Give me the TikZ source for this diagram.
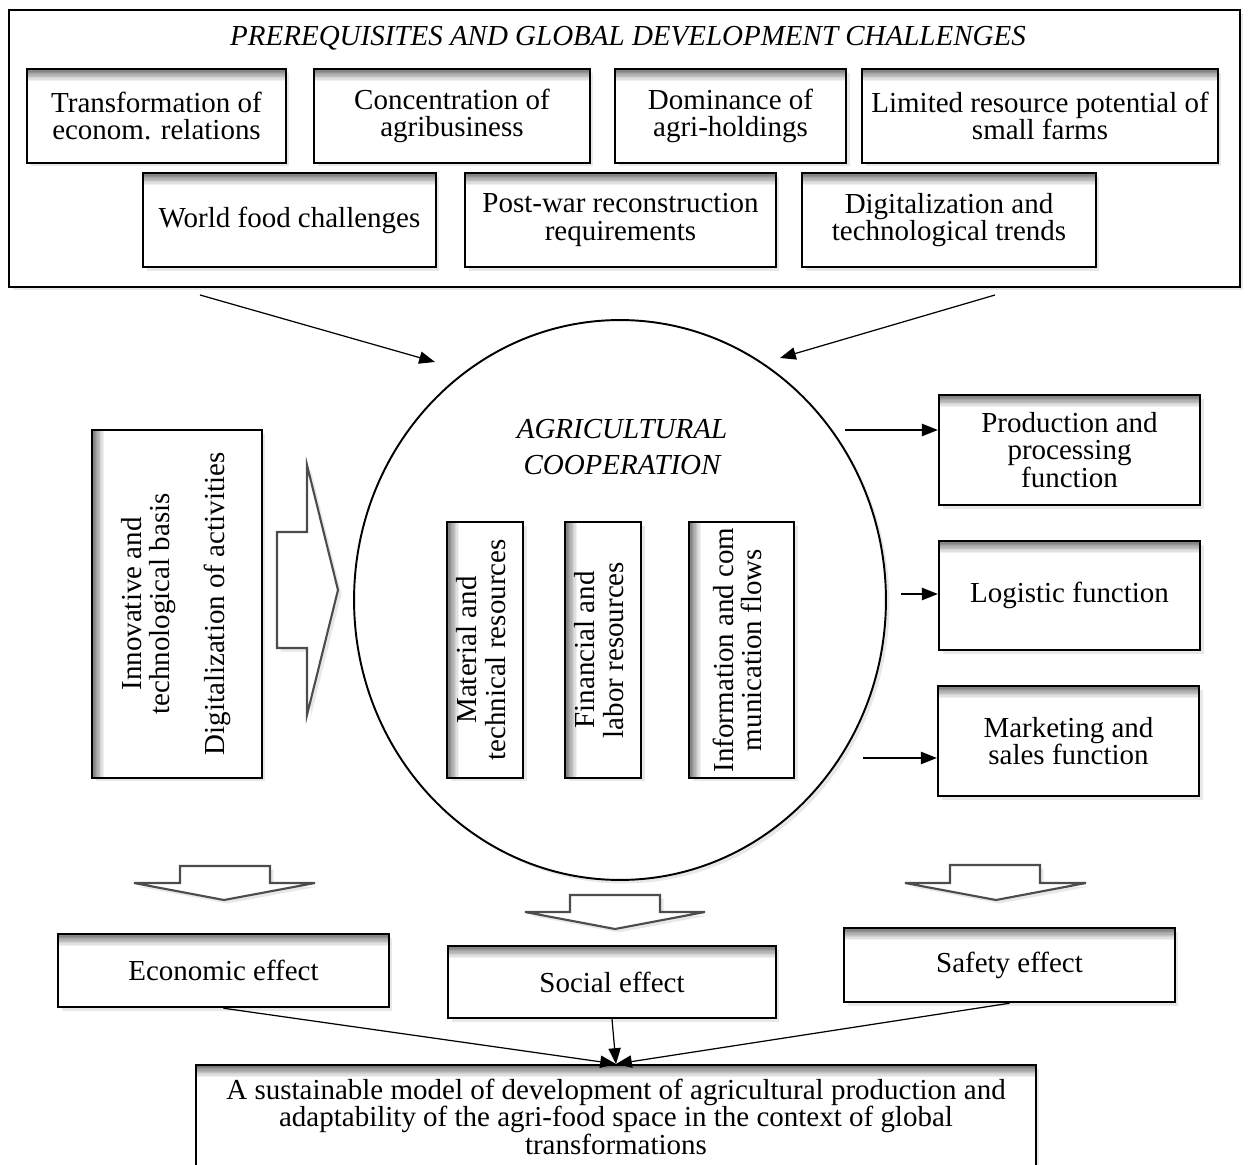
\documentclass[tikz,border=0pt]{standalone}
\usepackage{fontspec}
\setmainfont{Liberation Serif}
\usetikzlibrary{shapes.geometric,shadows,arrows.meta}
\newcommand\diafont{\fontsize{16.5}{15.5}\selectfont}
\newcommand\vtext[1]{\rotatebox{90}{\begin{tabular}{@{}c@{}}#1\end{tabular}}}

\begin{document}
\begin{tikzpicture}[x=0.02cm, y=-0.02cm, font=\diafont,
		>={Triangle[length=9pt,width=7pt]},
		sh/.style={drop shadow={opacity=0.18, shadow xshift=2pt, shadow yshift=-2pt}},
		b/.style={rectangle, draw, line width=1.4pt, fill=white, sh, align=center, inner sep=1pt,
			path picture={\foreach \i in {10,...,1} {\pgfmathtruncatemacro\g{60-6*\i}
				\fill[black!\g] (path picture bounding box.north west) rectangle ([yshift={-\i*0.75pt}]path picture bounding box.north east);}}},
		vb/.style={rectangle, draw, line width=1.4pt, fill=white, sh, inner sep=1pt,
			path picture={\foreach \i in {10,...,1} {\pgfmathtruncatemacro\g{60-6*\i}
				\fill[black!\g] (path picture bounding box.north west) rectangle ([xshift={\i*0.75pt}]path picture bounding box.south west);}}},
		ba/.style={draw=black!70, line width=1.2pt, fill=white, sh},
		a/.style={->, line width=0.7pt}]
		\useasboundingbox (0,0) rectangle (1251,1165);

		% prerequisites
		\node[draw, line width=1.4pt, fill=white, sh, minimum width=24.62cm, minimum height=5.54cm] (outer) at (624.5,148.5) {};
		\node[font=\diafont\itshape] (title) at (628,38) {PREREQUISITES AND GLOBAL DEVELOPMENT CHALLENGES};
		\node[b, minimum width=5.18cm, minimum height=1.88cm] (trans) at (156.5,116) {Transformation of\\econom. relations};
		\node[b, minimum width=5.52cm, minimum height=1.88cm] (conc) at (452,116) {Concentration of\\agribusiness};
		\node[b, minimum width=4.62cm, minimum height=1.88cm] (dom) at (730.5,116) {Dominance of\\agri-holdings};
		\node[b, minimum width=7.12cm, minimum height=1.88cm] (lim) at (1040,116) {Limited resource potential of\\small farms};
		\node[b, minimum width=5.86cm, minimum height=1.88cm] (world) at (289.5,220) {World food challenges};
		\node[b, minimum width=6.22cm, minimum height=1.88cm] (post) at (620.5,220) {Post-war reconstruction\\requirements};
		\node[b, minimum width=5.88cm, minimum height=1.88cm] (digit) at (949,220) {Digitalization and\\technological trends};

		% cooperation
		\node[ellipse, draw, line width=1.1pt, fill=white, sh, minimum width=10.64cm, minimum height=11.2cm] (coop) at (620,600) {};
		\node[font=\diafont\itshape, align=center] (cooptitle) at (622,447) {AGRICULTURAL\\[5pt]COOPERATION};
		\node[vb, minimum width=1.52cm, minimum height=5.12cm] (mat) at (485,650) {\vtext{Material and\\technical resources}};
		\node[vb, minimum width=1.52cm, minimum height=5.12cm] (fin) at (603,650) {\vtext{Financial and\\labor resources}};
		\node[vb, minimum width=2.1cm, minimum height=5.12cm] (info) at (741.5,650) {\vtext{Information and com\\munication flows}};

		\node[vb, minimum width=3.4cm, minimum height=6.96cm] (innov) at (177,604) {\vtext{Innovative and\\technological basis\\[15pt]Digitalization of activities}};
		\draw[ba] (277,532) -- (307,532) -- (307,465) -- (338,590) -- (307,715) -- (307,648) -- (277,648) -- cycle;

		% functions
		\node[b, minimum width=5.22cm, minimum height=2.2cm] (prod) at (1069.5,450) {Production and\\processing\\function};
		\node[b, minimum width=5.22cm, minimum height=2.18cm] (logi) at (1069.5,595.5) {Logistic function};
		\node[b, minimum width=5.22cm, minimum height=2.2cm] (mark) at (1068.5,741) {Marketing and\\sales function};

		\coordinate (t1) at (200,295);
		\coordinate (t1e) at (435,362);
		\coordinate (t2) at (995,295);
		\coordinate (t2e) at (780,358);
		\coordinate (f1) at (845,430);
		\coordinate (f2) at (901,594);
		\coordinate (f3) at (863,758);
		\draw[a] (t1) -- (t1e);
		\draw[a] (t2) -- (t2e);
		\draw[a] (f1) -- (f1 -| prod.west);
		\draw[a] (f2) -- (f2 -| logi.west);
		\draw[a] (f3) -- (f3 -| mark.west);

		% effects
		\draw[ba] (180,866) -- (270,866) -- (270,883) -- (315,883) -- (224,900) -- (134,883) -- (180,883) -- cycle;
		\draw[ba] (570,895) -- (660,895) -- (660,912) -- (705,912) -- (615,929) -- (525,912) -- (570,912) -- cycle;
		\draw[ba] (950,865) -- (1040,865) -- (1040,883) -- (1086,883) -- (996,900) -- (905,883) -- (950,883) -- cycle;

		\node[b, minimum width=6.62cm, minimum height=1.46cm] (econ) at (223.5,970.5) {Economic effect};
		\node[b, minimum width=6.56cm, minimum height=1.44cm] (social) at (612,982) {Social effect};
		\node[b, minimum width=6.62cm, minimum height=1.48cm] (safety) at (1009.5,965) {Safety effect};
		\node[b, anchor=north, minimum width=16.8cm, inner xsep=5pt, inner ysep=8pt, text depth=2cm] (final) at (616,1064) {A sustainable model of development of agricultural production and\\adaptability of the agri-food space in the context of global\\transformations};

		\draw[a] (econ.south) -- (final.north);
		\draw[a] (social.south) -- (final.north);
		\draw[a] (safety.south) -- (final.north);
	\end{tikzpicture}
\end{document}
